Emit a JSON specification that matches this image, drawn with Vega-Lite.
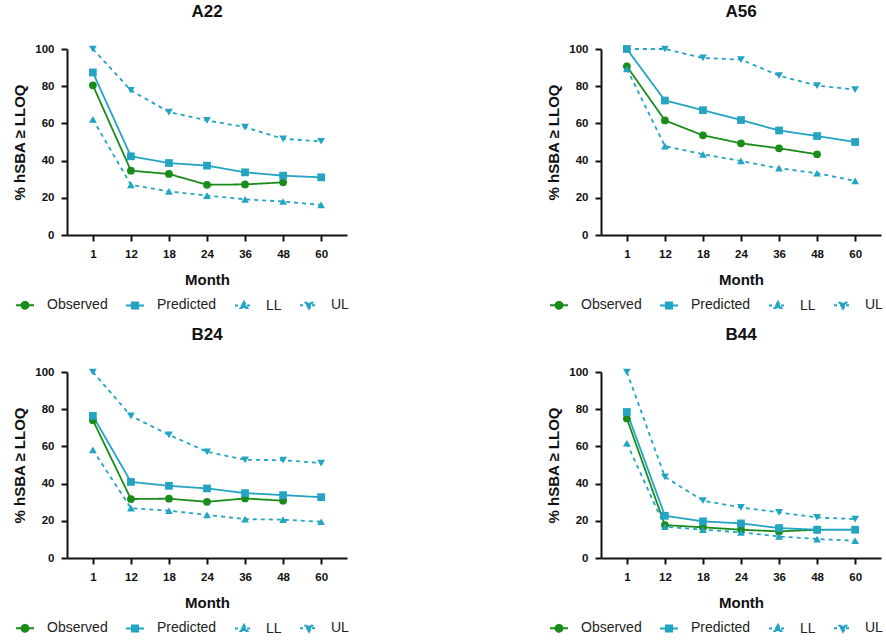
{
  "$schema": "https://vega.github.io/schema/vega-lite/v6.json",
  "background": "white",
  "padding": {"left": 12, "top": 3, "right": 0, "bottom": 0},
  "datasets": {
    "rows": [
      {"panel":"A22","month":1,"series":"Observed","value":80.5},
      {"panel":"A22","month":12,"series":"Observed","value":34.6},
      {"panel":"A22","month":18,"series":"Observed","value":32.8},
      {"panel":"A22","month":24,"series":"Observed","value":27.0},
      {"panel":"A22","month":36,"series":"Observed","value":27.2},
      {"panel":"A22","month":48,"series":"Observed","value":28.3},
      {"panel":"A22","month":1,"series":"Predicted","value":87.4},
      {"panel":"A22","month":12,"series":"Predicted","value":42.3},
      {"panel":"A22","month":18,"series":"Predicted","value":38.7},
      {"panel":"A22","month":24,"series":"Predicted","value":37.3},
      {"panel":"A22","month":36,"series":"Predicted","value":33.7},
      {"panel":"A22","month":48,"series":"Predicted","value":31.9},
      {"panel":"A22","month":60,"series":"Predicted","value":31.0},
      {"panel":"A22","month":1,"series":"LL","value":62.2},
      {"panel":"A22","month":12,"series":"LL","value":27.0},
      {"panel":"A22","month":18,"series":"LL","value":23.4},
      {"panel":"A22","month":24,"series":"LL","value":21.2},
      {"panel":"A22","month":36,"series":"LL","value":19.2},
      {"panel":"A22","month":48,"series":"LL","value":18.0},
      {"panel":"A22","month":60,"series":"LL","value":16.2},
      {"panel":"A22","month":1,"series":"UL","value":100},
      {"panel":"A22","month":12,"series":"UL","value":77.8},
      {"panel":"A22","month":18,"series":"UL","value":66.1},
      {"panel":"A22","month":24,"series":"UL","value":61.6},
      {"panel":"A22","month":36,"series":"UL","value":58.0},
      {"panel":"A22","month":48,"series":"UL","value":51.7},
      {"panel":"A22","month":60,"series":"UL","value":50.4},

      {"panel":"A56","month":1,"series":"Observed","value":90.7},
      {"panel":"A56","month":12,"series":"Observed","value":61.6},
      {"panel":"A56","month":18,"series":"Observed","value":53.6},
      {"panel":"A56","month":24,"series":"Observed","value":49.3},
      {"panel":"A56","month":36,"series":"Observed","value":46.6},
      {"panel":"A56","month":48,"series":"Observed","value":43.4},
      {"panel":"A56","month":1,"series":"Predicted","value":100},
      {"panel":"A56","month":12,"series":"Predicted","value":72.3},
      {"panel":"A56","month":18,"series":"Predicted","value":67.1},
      {"panel":"A56","month":24,"series":"Predicted","value":61.8},
      {"panel":"A56","month":36,"series":"Predicted","value":56.2},
      {"panel":"A56","month":48,"series":"Predicted","value":53.2},
      {"panel":"A56","month":60,"series":"Predicted","value":50.0},
      {"panel":"A56","month":1,"series":"LL","value":89.3},
      {"panel":"A56","month":12,"series":"LL","value":47.8},
      {"panel":"A56","month":18,"series":"LL","value":43.4},
      {"panel":"A56","month":24,"series":"LL","value":39.8},
      {"panel":"A56","month":36,"series":"LL","value":35.9},
      {"panel":"A56","month":48,"series":"LL","value":33.2},
      {"panel":"A56","month":60,"series":"LL","value":29.1},
      {"panel":"A56","month":1,"series":"UL","value":100},
      {"panel":"A56","month":12,"series":"UL","value":100},
      {"panel":"A56","month":18,"series":"UL","value":95.2},
      {"panel":"A56","month":24,"series":"UL","value":94.3},
      {"panel":"A56","month":36,"series":"UL","value":85.7},
      {"panel":"A56","month":48,"series":"UL","value":80.3},
      {"panel":"A56","month":60,"series":"UL","value":78.2},

      {"panel":"B24","month":1,"series":"Observed","value":74.1},
      {"panel":"B24","month":12,"series":"Observed","value":31.7},
      {"panel":"B24","month":18,"series":"Observed","value":31.9},
      {"panel":"B24","month":24,"series":"Observed","value":30.2},
      {"panel":"B24","month":36,"series":"Observed","value":32.0},
      {"panel":"B24","month":48,"series":"Observed","value":30.8},
      {"panel":"B24","month":1,"series":"Predicted","value":76.4},
      {"panel":"B24","month":12,"series":"Predicted","value":40.9},
      {"panel":"B24","month":18,"series":"Predicted","value":38.8},
      {"panel":"B24","month":24,"series":"Predicted","value":37.4},
      {"panel":"B24","month":36,"series":"Predicted","value":34.9},
      {"panel":"B24","month":48,"series":"Predicted","value":33.8},
      {"panel":"B24","month":60,"series":"Predicted","value":32.7},
      {"panel":"B24","month":1,"series":"LL","value":58.1},
      {"panel":"B24","month":12,"series":"LL","value":26.8},
      {"panel":"B24","month":18,"series":"LL","value":25.4},
      {"panel":"B24","month":24,"series":"LL","value":23.2},
      {"panel":"B24","month":36,"series":"LL","value":20.9},
      {"panel":"B24","month":48,"series":"LL","value":20.6},
      {"panel":"B24","month":60,"series":"LL","value":19.5},
      {"panel":"B24","month":1,"series":"UL","value":100},
      {"panel":"B24","month":12,"series":"UL","value":76.4},
      {"panel":"B24","month":18,"series":"UL","value":66.2},
      {"panel":"B24","month":24,"series":"UL","value":57.1},
      {"panel":"B24","month":36,"series":"UL","value":52.8},
      {"panel":"B24","month":48,"series":"UL","value":52.6},
      {"panel":"B24","month":60,"series":"UL","value":51.0},

      {"panel":"B44","month":1,"series":"Observed","value":75.0},
      {"panel":"B44","month":12,"series":"Observed","value":17.7},
      {"panel":"B44","month":18,"series":"Observed","value":16.5},
      {"panel":"B44","month":24,"series":"Observed","value":15.2},
      {"panel":"B44","month":36,"series":"Observed","value":14.3},
      {"panel":"B44","month":48,"series":"Observed","value":15.2},
      {"panel":"B44","month":1,"series":"Predicted","value":78.5},
      {"panel":"B44","month":12,"series":"Predicted","value":22.7},
      {"panel":"B44","month":18,"series":"Predicted","value":19.7},
      {"panel":"B44","month":24,"series":"Predicted","value":18.6},
      {"panel":"B44","month":36,"series":"Predicted","value":16.1},
      {"panel":"B44","month":48,"series":"Predicted","value":15.2},
      {"panel":"B44","month":60,"series":"Predicted","value":15.2},
      {"panel":"B44","month":1,"series":"LL","value":61.7},
      {"panel":"B44","month":12,"series":"LL","value":16.8},
      {"panel":"B44","month":18,"series":"LL","value":15.2},
      {"panel":"B44","month":24,"series":"LL","value":13.8},
      {"panel":"B44","month":36,"series":"LL","value":11.6},
      {"panel":"B44","month":48,"series":"LL","value":10.2},
      {"panel":"B44","month":60,"series":"LL","value":9.3},
      {"panel":"B44","month":1,"series":"UL","value":100},
      {"panel":"B44","month":12,"series":"UL","value":43.6},
      {"panel":"B44","month":18,"series":"UL","value":30.8},
      {"panel":"B44","month":24,"series":"UL","value":27.2},
      {"panel":"B44","month":36,"series":"UL","value":24.5},
      {"panel":"B44","month":48,"series":"UL","value":21.8},
      {"panel":"B44","month":60,"series":"UL","value":20.9}
    ]
  },
  "data": {"name": "rows"},
  "spacing": 13,
  "resolve": {"scale": {"color": "independent", "shape": "independent", "strokeDash": "independent", "fill": "independent", "stroke": "independent"}},
  "vconcat": [
    {
      "spacing": 197,
      "resolve": {"scale": {"color": "independent", "shape": "independent", "strokeDash": "independent", "fill": "independent", "stroke": "independent"}},
      "hconcat": [
        {
          "title": "A22",
          "width": 280, "height": 186,
          "transform": [{"filter": "datum.panel === 'A22'"}],
          "encoding": {
            "x": {"field": "month", "type": "ordinal", "scale": {"type": "point", "padding": 0.68}, "axis": {"title": "Month", "labelAngle": 0}},
            "y": {"field": "value", "type": "quantitative", "scale": {"domain": [0, 100], "nice": false}, "axis": {"title": "% hSBA ≥ LLOQ", "values": [0, 20, 40, 60, 80, 100]}},
            "color": {"field": "series", "type": "nominal", "scale": {"domain": ["Observed", "Predicted", "LL", "UL"], "range": ["#1a8c1a", "#22a4c2", "#22a4c2", "#22a4c2"]}, "legend": null}
          },
          "resolve": {"scale": {"shape": "independent", "strokeDash": "independent", "fill": "independent", "stroke": "independent"}},
          "layer": [
            {"mark": {"type": "line", "strokeWidth": 1.8},
             "encoding": {"strokeDash": {"field": "series", "type": "nominal", "scale": {"domain": ["Observed", "Predicted", "LL", "UL"], "range": [[1, 0], [1, 0], [4, 4], [4, 4]]}, "legend": null}}},
            {"mark": {"type": "point", "filled": true, "opacity": 1, "size": 60},
             "encoding": {"shape": {"field": "series", "type": "nominal", "scale": {"domain": ["Observed", "Predicted", "LL", "UL"], "range": ["circle", "square", "triangle-up", "triangle-down"]}, "legend": null}}},
            {"transform": [{"filter": "datum.value < 0"}],
             "mark": {"type": "point", "filled": true, "opacity": 1, "strokeWidth": 2},
             "encoding": {
               "shape": {"field": "series", "type": "nominal", "scale": {"domain": ["Observed", "Predicted", "LL", "UL"], "range": ["M-1,0L1,0M-0.38,0A0.38,0.38 0 1 0 0.38,0A0.38,0.38 0 1 0 -0.38,0Z", "M-1,0L1,0M-0.34,-0.34L0.34,-0.34L0.34,0.34L-0.34,0.34Z", "M-1,0L1,0M0,-0.4L0.38,0.28L-0.38,0.28Z", "M-1,0L1,0M0,0.4L0.38,-0.28L-0.38,-0.28Z"]},
                 "legend": {"title": null, "orient": "none", "legendX": -52, "legendY": 246, "direction": "horizontal"}},
               "fill": {"field": "series", "type": "nominal", "scale": {"domain": ["Observed", "Predicted", "LL", "UL"], "range": ["#1a8c1a", "#22a4c2", "#22a4c2", "#22a4c2"]},
                 "legend": {"title": null, "orient": "none", "legendX": -52, "legendY": 246, "direction": "horizontal"}},
               "stroke": {"field": "series", "type": "nominal", "scale": {"domain": ["Observed", "Predicted", "LL", "UL"], "range": ["#1a8c1a", "#22a4c2", "#22a4c2", "#22a4c2"]},
                 "legend": {"title": null, "orient": "none", "legendX": -52, "legendY": 246, "direction": "horizontal"}},
               "strokeDash": {"field": "series", "type": "nominal", "scale": {"domain": ["Observed", "Predicted", "LL", "UL"], "range": [[1, 0], [1, 0], [3, 3], [3, 3]]},
                 "legend": {"title": null, "orient": "none", "legendX": -52, "legendY": 246, "direction": "horizontal"}}
             }}
          ]
        },
        {
          "title": "A56",
          "width": 280, "height": 186,
          "transform": [{"filter": "datum.panel === 'A56'"}],
          "encoding": {
            "x": {"field": "month", "type": "ordinal", "scale": {"type": "point", "padding": 0.68}, "axis": {"title": "Month", "labelAngle": 0}},
            "y": {"field": "value", "type": "quantitative", "scale": {"domain": [0, 100], "nice": false}, "axis": {"title": "% hSBA ≥ LLOQ", "values": [0, 20, 40, 60, 80, 100]}},
            "color": {"field": "series", "type": "nominal", "scale": {"domain": ["Observed", "Predicted", "LL", "UL"], "range": ["#1a8c1a", "#22a4c2", "#22a4c2", "#22a4c2"]}, "legend": null}
          },
          "resolve": {"scale": {"shape": "independent", "strokeDash": "independent", "fill": "independent", "stroke": "independent"}},
          "layer": [
            {"mark": {"type": "line", "strokeWidth": 1.8},
             "encoding": {"strokeDash": {"field": "series", "type": "nominal", "scale": {"domain": ["Observed", "Predicted", "LL", "UL"], "range": [[1, 0], [1, 0], [4, 4], [4, 4]]}, "legend": null}}},
            {"mark": {"type": "point", "filled": true, "opacity": 1, "size": 60},
             "encoding": {"shape": {"field": "series", "type": "nominal", "scale": {"domain": ["Observed", "Predicted", "LL", "UL"], "range": ["circle", "square", "triangle-up", "triangle-down"]}, "legend": null}}},
            {"transform": [{"filter": "datum.value < 0"}],
             "mark": {"type": "point", "filled": true, "opacity": 1, "strokeWidth": 2},
             "encoding": {
               "shape": {"field": "series", "type": "nominal", "scale": {"domain": ["Observed", "Predicted", "LL", "UL"], "range": ["M-1,0L1,0M-0.38,0A0.38,0.38 0 1 0 0.38,0A0.38,0.38 0 1 0 -0.38,0Z", "M-1,0L1,0M-0.34,-0.34L0.34,-0.34L0.34,0.34L-0.34,0.34Z", "M-1,0L1,0M0,-0.4L0.38,0.28L-0.38,0.28Z", "M-1,0L1,0M0,0.4L0.38,-0.28L-0.38,-0.28Z"]},
                 "legend": {"title": null, "orient": "none", "legendX": -52, "legendY": 246, "direction": "horizontal"}},
               "fill": {"field": "series", "type": "nominal", "scale": {"domain": ["Observed", "Predicted", "LL", "UL"], "range": ["#1a8c1a", "#22a4c2", "#22a4c2", "#22a4c2"]},
                 "legend": {"title": null, "orient": "none", "legendX": -52, "legendY": 246, "direction": "horizontal"}},
               "stroke": {"field": "series", "type": "nominal", "scale": {"domain": ["Observed", "Predicted", "LL", "UL"], "range": ["#1a8c1a", "#22a4c2", "#22a4c2", "#22a4c2"]},
                 "legend": {"title": null, "orient": "none", "legendX": -52, "legendY": 246, "direction": "horizontal"}},
               "strokeDash": {"field": "series", "type": "nominal", "scale": {"domain": ["Observed", "Predicted", "LL", "UL"], "range": [[1, 0], [1, 0], [3, 3], [3, 3]]},
                 "legend": {"title": null, "orient": "none", "legendX": -52, "legendY": 246, "direction": "horizontal"}}
             }}
          ]
        }
      ]
    },
    {
      "spacing": 197,
      "resolve": {"scale": {"color": "independent", "shape": "independent", "strokeDash": "independent", "fill": "independent", "stroke": "independent"}},
      "hconcat": [
        {
          "title": "B24",
          "width": 280, "height": 186,
          "transform": [{"filter": "datum.panel === 'B24'"}],
          "encoding": {
            "x": {"field": "month", "type": "ordinal", "scale": {"type": "point", "padding": 0.68}, "axis": {"title": "Month", "labelAngle": 0}},
            "y": {"field": "value", "type": "quantitative", "scale": {"domain": [0, 100], "nice": false}, "axis": {"title": "% hSBA ≥ LLOQ", "values": [0, 20, 40, 60, 80, 100]}},
            "color": {"field": "series", "type": "nominal", "scale": {"domain": ["Observed", "Predicted", "LL", "UL"], "range": ["#1a8c1a", "#22a4c2", "#22a4c2", "#22a4c2"]}, "legend": null}
          },
          "resolve": {"scale": {"shape": "independent", "strokeDash": "independent", "fill": "independent", "stroke": "independent"}},
          "layer": [
            {"mark": {"type": "line", "strokeWidth": 1.8},
             "encoding": {"strokeDash": {"field": "series", "type": "nominal", "scale": {"domain": ["Observed", "Predicted", "LL", "UL"], "range": [[1, 0], [1, 0], [4, 4], [4, 4]]}, "legend": null}}},
            {"mark": {"type": "point", "filled": true, "opacity": 1, "size": 60},
             "encoding": {"shape": {"field": "series", "type": "nominal", "scale": {"domain": ["Observed", "Predicted", "LL", "UL"], "range": ["circle", "square", "triangle-up", "triangle-down"]}, "legend": null}}},
            {"transform": [{"filter": "datum.value < 0"}],
             "mark": {"type": "point", "filled": true, "opacity": 1, "strokeWidth": 2},
             "encoding": {
               "shape": {"field": "series", "type": "nominal", "scale": {"domain": ["Observed", "Predicted", "LL", "UL"], "range": ["M-1,0L1,0M-0.38,0A0.38,0.38 0 1 0 0.38,0A0.38,0.38 0 1 0 -0.38,0Z", "M-1,0L1,0M-0.34,-0.34L0.34,-0.34L0.34,0.34L-0.34,0.34Z", "M-1,0L1,0M0,-0.4L0.38,0.28L-0.38,0.28Z", "M-1,0L1,0M0,0.4L0.38,-0.28L-0.38,-0.28Z"]},
                 "legend": {"title": null, "orient": "none", "legendX": -52, "legendY": 246, "direction": "horizontal"}},
               "fill": {"field": "series", "type": "nominal", "scale": {"domain": ["Observed", "Predicted", "LL", "UL"], "range": ["#1a8c1a", "#22a4c2", "#22a4c2", "#22a4c2"]},
                 "legend": {"title": null, "orient": "none", "legendX": -52, "legendY": 246, "direction": "horizontal"}},
               "stroke": {"field": "series", "type": "nominal", "scale": {"domain": ["Observed", "Predicted", "LL", "UL"], "range": ["#1a8c1a", "#22a4c2", "#22a4c2", "#22a4c2"]},
                 "legend": {"title": null, "orient": "none", "legendX": -52, "legendY": 246, "direction": "horizontal"}},
               "strokeDash": {"field": "series", "type": "nominal", "scale": {"domain": ["Observed", "Predicted", "LL", "UL"], "range": [[1, 0], [1, 0], [3, 3], [3, 3]]},
                 "legend": {"title": null, "orient": "none", "legendX": -52, "legendY": 246, "direction": "horizontal"}}
             }}
          ]
        },
        {
          "title": "B44",
          "width": 280, "height": 186,
          "transform": [{"filter": "datum.panel === 'B44'"}],
          "encoding": {
            "x": {"field": "month", "type": "ordinal", "scale": {"type": "point", "padding": 0.68}, "axis": {"title": "Month", "labelAngle": 0}},
            "y": {"field": "value", "type": "quantitative", "scale": {"domain": [0, 100], "nice": false}, "axis": {"title": "% hSBA ≥ LLOQ", "values": [0, 20, 40, 60, 80, 100]}},
            "color": {"field": "series", "type": "nominal", "scale": {"domain": ["Observed", "Predicted", "LL", "UL"], "range": ["#1a8c1a", "#22a4c2", "#22a4c2", "#22a4c2"]}, "legend": null}
          },
          "resolve": {"scale": {"shape": "independent", "strokeDash": "independent", "fill": "independent", "stroke": "independent"}},
          "layer": [
            {"mark": {"type": "line", "strokeWidth": 1.8},
             "encoding": {"strokeDash": {"field": "series", "type": "nominal", "scale": {"domain": ["Observed", "Predicted", "LL", "UL"], "range": [[1, 0], [1, 0], [4, 4], [4, 4]]}, "legend": null}}},
            {"mark": {"type": "point", "filled": true, "opacity": 1, "size": 60},
             "encoding": {"shape": {"field": "series", "type": "nominal", "scale": {"domain": ["Observed", "Predicted", "LL", "UL"], "range": ["circle", "square", "triangle-up", "triangle-down"]}, "legend": null}}},
            {"transform": [{"filter": "datum.value < 0"}],
             "mark": {"type": "point", "filled": true, "opacity": 1, "strokeWidth": 2},
             "encoding": {
               "shape": {"field": "series", "type": "nominal", "scale": {"domain": ["Observed", "Predicted", "LL", "UL"], "range": ["M-1,0L1,0M-0.38,0A0.38,0.38 0 1 0 0.38,0A0.38,0.38 0 1 0 -0.38,0Z", "M-1,0L1,0M-0.34,-0.34L0.34,-0.34L0.34,0.34L-0.34,0.34Z", "M-1,0L1,0M0,-0.4L0.38,0.28L-0.38,0.28Z", "M-1,0L1,0M0,0.4L0.38,-0.28L-0.38,-0.28Z"]},
                 "legend": {"title": null, "orient": "none", "legendX": -52, "legendY": 246, "direction": "horizontal"}},
               "fill": {"field": "series", "type": "nominal", "scale": {"domain": ["Observed", "Predicted", "LL", "UL"], "range": ["#1a8c1a", "#22a4c2", "#22a4c2", "#22a4c2"]},
                 "legend": {"title": null, "orient": "none", "legendX": -52, "legendY": 246, "direction": "horizontal"}},
               "stroke": {"field": "series", "type": "nominal", "scale": {"domain": ["Observed", "Predicted", "LL", "UL"], "range": ["#1a8c1a", "#22a4c2", "#22a4c2", "#22a4c2"]},
                 "legend": {"title": null, "orient": "none", "legendX": -52, "legendY": 246, "direction": "horizontal"}},
               "strokeDash": {"field": "series", "type": "nominal", "scale": {"domain": ["Observed", "Predicted", "LL", "UL"], "range": [[1, 0], [1, 0], [3, 3], [3, 3]]},
                 "legend": {"title": null, "orient": "none", "legendX": -52, "legendY": 246, "direction": "horizontal"}}
             }}
          ]
        }
      ]
    }
  ],
  "config": {
    "font": "Liberation Sans",
    "view": {"stroke": null},
    "title": {"fontSize": 17, "fontWeight": "bold", "color": "#111", "offset": 22, "anchor": "middle"},
    "axis": {
      "grid": false,
      "domainColor": "#111", "domainWidth": 2,
      "tickColor": "#111", "tickWidth": 2, "tickSize": 6,
      "labelColor": "#111", "labelFontSize": 11.5, "labelFontWeight": "bold", "labelPadding": 7,
      "titleColor": "#111", "titleFontSize": 15, "titleFontWeight": "bold"
    },
    "axisX": {"titlePadding": 13},
    "axisY": {"titlePadding": 7},
    "legend": {"symbolSize": 324, "labelFontSize": 14, "labelColor": "#222", "labelOffset": 12, "columnPadding": 14, "symbolStrokeWidth": 2}
  }
}
